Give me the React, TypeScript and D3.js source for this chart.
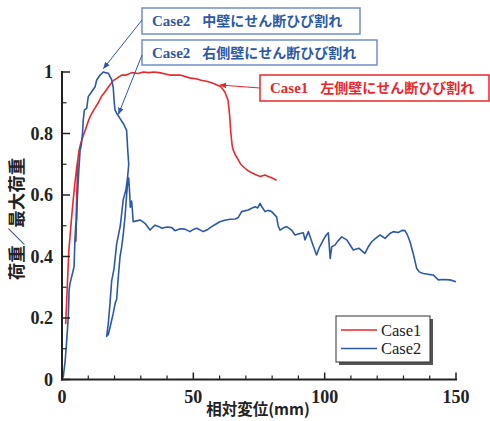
import React from "react";
import * as d3 from "d3";

const case1: [number, number][] = [
  [1.4, 0.18], [2.0, 0.3], [2.6, 0.42], [3.2, 0.48], [4.0, 0.56], [4.8, 0.63], [5.6, 0.69], [6.1, 0.72],
  [5.6, 0.58], [5.2, 0.45], [5.6, 0.6], [6.1, 0.72], [6.5, 0.746], [7.2, 0.77], [8, 0.79], [8.8, 0.81],
  [10, 0.84], [10.7, 0.855], [12, 0.875], [13.8, 0.9], [15, 0.92], [16.4, 0.936], [18, 0.955], [19.5, 0.972],
  [21, 0.98], [22.7, 0.99], [24.5, 0.99], [26.5, 0.998], [29, 0.995], [31, 1.0], [33, 0.998], [35, 1.0],
  [37, 0.998], [39, 0.994], [41, 0.99], [43, 0.99], [45, 0.99], [47, 0.985], [49, 0.98], [51, 0.978],
  [53, 0.973], [55, 0.97], [57, 0.965], [59, 0.958], [60.5, 0.952], [62, 0.935], [63.2, 0.909], [63.8, 0.86],
  [64.3, 0.8], [64.8, 0.76], [65.2, 0.746], [66, 0.73], [67.1, 0.715], [68, 0.7], [69.7, 0.687], [71, 0.678],
  [72.8, 0.67], [74, 0.665], [75.5, 0.66], [77.3, 0.665], [78.5, 0.66], [80, 0.655], [81.7, 0.648],
];

const case2: [number, number][] = [
  [0, 0], [0.5, 0.01], [1.2, 0.06], [1.8, 0.128], [2.4, 0.204], [2.7, 0.29], [3, 0.31], [4.3, 0.356],
  [4.6, 0.367], [4.9, 0.45], [5.2, 0.5], [5.6, 0.52], [5.8, 0.58], [5.4, 0.5], [5.2, 0.45], [5.5, 0.52],
  [5.9, 0.6], [6.4, 0.68], [6.9, 0.746], [7.3, 0.76], [7.8, 0.8], [8.1, 0.844], [8.5, 0.876], [9.4, 0.882],
  [10, 0.92], [11.3, 0.936], [12.6, 0.952], [13.2, 0.974], [14.5, 0.99], [15.7, 1.0], [16.4, 0.998],
  [17.6, 0.996], [18.9, 0.975], [19.5, 0.95], [19.9, 0.9], [20.2, 0.876], [20.8, 0.866], [22, 0.85],
  [23.5, 0.83], [24.6, 0.81], [25.0, 0.75], [25.4, 0.7], [25.0, 0.66], [24.4, 0.62], [23.3, 0.584],
  [22.2, 0.5], [20.8, 0.44], [19.8, 0.36], [18.9, 0.32], [18.2, 0.24], [17.6, 0.18], [17, 0.14],
  [17.3, 0.15], [17.6, 0.145], [18.3, 0.17], [19.5, 0.215], [20.3, 0.25], [20.8, 0.26], [21.4, 0.33],
  [22.1, 0.4], [22.7, 0.43], [23.3, 0.47], [24, 0.53], [24.6, 0.6], [25.0, 0.64], [25.4, 0.655],
  [25.8, 0.6], [26.0, 0.56], [26.5, 0.58], [26.8, 0.55], [27.1, 0.513], [28, 0.515], [29.7, 0.519],
  [31.6, 0.508], [33.5, 0.486], [35.4, 0.502], [37, 0.497], [38, 0.492], [40, 0.496], [41.8, 0.494],
  [43, 0.484], [45, 0.49], [46.8, 0.489], [48.7, 0.481], [50, 0.488], [51.3, 0.492], [53.8, 0.481],
  [55.5, 0.488], [57, 0.497], [58.5, 0.505], [60.1, 0.513], [62, 0.518], [64, 0.521], [66, 0.522],
  [67.1, 0.527], [68.4, 0.546], [70.9, 0.551], [72, 0.556], [73.5, 0.562], [74.5, 0.558], [75.4, 0.573],
  [76.2, 0.56], [77.3, 0.546], [78.5, 0.55], [79.8, 0.546], [81.7, 0.529], [82.3, 0.5], [83, 0.486],
  [84.5, 0.494], [85.5, 0.497], [86.8, 0.49], [87.4, 0.486], [88.7, 0.47], [90.6, 0.475], [91.9, 0.477],
  [92.5, 0.454], [93.8, 0.481], [95.1, 0.448], [96.9, 0.405], [98, 0.43], [99.5, 0.454], [100.6, 0.47],
  [101.4, 0.477], [102.1, 0.394], [102.7, 0.432], [103.9, 0.437], [105, 0.45], [106.5, 0.464],
  [108.4, 0.454], [109.5, 0.44], [110.9, 0.421], [113, 0.427], [115.3, 0.41], [116.5, 0.43],
  [117.9, 0.448], [119.5, 0.46], [121.1, 0.47], [123, 0.459], [124.9, 0.475], [126.1, 0.481],
  [128, 0.478], [129.5, 0.485], [130.6, 0.484], [131.5, 0.47], [132.5, 0.448], [133.7, 0.41],
  [135, 0.362], [136, 0.35], [137.5, 0.345], [139.5, 0.342], [141.3, 0.34], [143.3, 0.324],
  [145, 0.325], [147.7, 0.324], [150, 0.318],
];

const xMajor = [0, 50, 100, 150];
const xMinor = [10, 20, 30, 40, 60, 70, 80, 90, 110, 120, 130, 140];
const yMajor = [0, 0.2, 0.4, 0.6, 0.8, 1];
const yMinor = [0.1, 0.3, 0.5, 0.7, 0.9];
const yLabels = ["0", "0.2", "0.4", "0.6", "0.8", "1"];
const seriesNames = ["Case1", "Case2"];
const colors = ["#e8282c", "#2c58a8"];

const annotations = [
  { label: "Case2", text: "中壁にせん断ひび割れ", color: "#2c58a8", border: "#6f8fc8", box: [142, 8, 218, 26], from: [142, 20], to: [103.5, 68.5] },
  { label: "Case2", text: "右側壁にせん断ひび割れ", color: "#2c58a8", border: "#6f8fc8", box: [142, 40, 235, 25], from: [142, 55], to: [118.5, 114] },
  { label: "Case1", text: "左側壁にせん断ひび割れ", color: "#e8282c", border: "#e8282c", box: [260, 75, 229, 26], from: [260, 88], to: [220, 85] },
];

export default function App() {
  const x = d3.scaleLinear().domain([0, 150]).range([62, 456]);
  const y = d3.scaleLinear().domain([0, 1]).range([379.5, 72]);
  const line = d3.line<[number, number]>().x((d) => x(d[0])).y((d) => y(d[1]));
  const serif = "'Liberation Serif', 'DejaVu Serif', serif";
  const cjk = "'Noto Sans CJK JP', sans-serif";
  return (
    <svg width={490} height={421} style={{ position: "absolute", left: 0, top: 0, background: "#fff" }}>
      <defs>
        {annotations.map((a, i) => (
          <marker key={i} id={`arr${i}`} viewBox="0 0 10 10" refX="9" refY="5" markerWidth="7" markerHeight="7" orient="auto-start-reverse" markerUnits="userSpaceOnUse">
            <path d="M0,1 L10,5 L0,9 z" fill={a.color} />
          </marker>
        ))}
      </defs>
      <path d={line(case1) || ""} fill="none" stroke={colors[0]} strokeWidth={1.6} strokeLinejoin="round" />
      <path d={line(case2) || ""} fill="none" stroke={colors[1]} strokeWidth={1.6} strokeLinejoin="round" />
      <line x1={x(0)} x2={x(0)} y1={y(1) - 1} y2={y(0) + 1} stroke="#222" strokeWidth={2} />
      <line x1={x(0) - 1} x2={x(150) + 1} y1={y(0)} y2={y(0)} stroke="#222" strokeWidth={2} />
      {yMajor.map((v, i) => (
        <g key={"ym" + i}>
          <line x1={x(0)} x2={x(0) + 8} y1={y(v)} y2={y(v)} stroke="#222" strokeWidth={1.5} />
          <text x={53} y={y(v)} dy="0.35em" textAnchor="end" fontFamily={serif} fontWeight="bold" fontSize={18} fill="#222">{yLabels[i]}</text>
        </g>
      ))}
      {yMinor.map((v, i) => (
        <line key={"yn" + i} x1={x(0)} x2={x(0) + 4.5} y1={y(v)} y2={y(v)} stroke="#222" strokeWidth={1.2} />
      ))}
      {xMajor.map((v, i) => (
        <g key={"xm" + i}>
          <line x1={x(v)} x2={x(v)} y1={y(0)} y2={y(0) - 7} stroke="#222" strokeWidth={1.5} />
          <text x={x(v)} y={397} dy="0.35em" textAnchor="middle" fontFamily={serif} fontWeight="bold" fontSize={18} fill="#222">{v}</text>
        </g>
      ))}
      {xMinor.map((v, i) => (
        <line key={"xn" + i} x1={x(v)} x2={x(v)} y1={y(0)} y2={y(0) - 4} stroke="#222" strokeWidth={1.2} />
      ))}
      <text x={258} y={415} textAnchor="middle" fontFamily={cjk} fontWeight="bold" fontSize={15.5} fill="#222">相対変位(mm)</text>
      <text transform="translate(23,219) rotate(-90)" textAnchor="middle" fontFamily={cjk} fontWeight="bold" fontSize={17.5} fill="#222">荷重／最大荷重</text>
      {annotations.map((a, i) => (
        <g key={"an" + i}>
          <rect x={a.box[0]} y={a.box[1]} width={a.box[2]} height={a.box[3]} fill="#fff" stroke={a.border} strokeWidth={1.5} />
          <text x={a.box[0] + 10} y={a.box[1] + a.box[3] / 2} dy="0.36em" fontWeight="bold" fontSize={14} fill={a.color}>
            <tspan fontFamily={serif} fontSize={15}>{a.label}</tspan>
            <tspan fontFamily={cjk} dx={12}>{a.text}</tspan>
          </text>
          <line x1={a.from[0]} y1={a.from[1]} x2={a.to[0]} y2={a.to[1]} stroke={a.color} strokeWidth={1} markerEnd={`url(#arr${i})`} />
        </g>
      ))}
      <rect x={339} y={319} width={94} height={46} fill="#555" />
      <rect x={336} y={316} width={94} height={46} fill="#fff" stroke="#333" strokeWidth={1} />
      {seriesNames.map((n, i) => (
        <g key={"lg" + i}>
          <line x1={341} x2={377} y1={330 + i * 18.5} y2={330 + i * 18.5} stroke={colors[i]} strokeWidth={1.6} />
          <text x={381} y={330 + i * 18.5} dy="0.35em" fontFamily={serif} fontSize={16.5} fill="#222">{n}</text>
        </g>
      ))}
    </svg>
  );
}
